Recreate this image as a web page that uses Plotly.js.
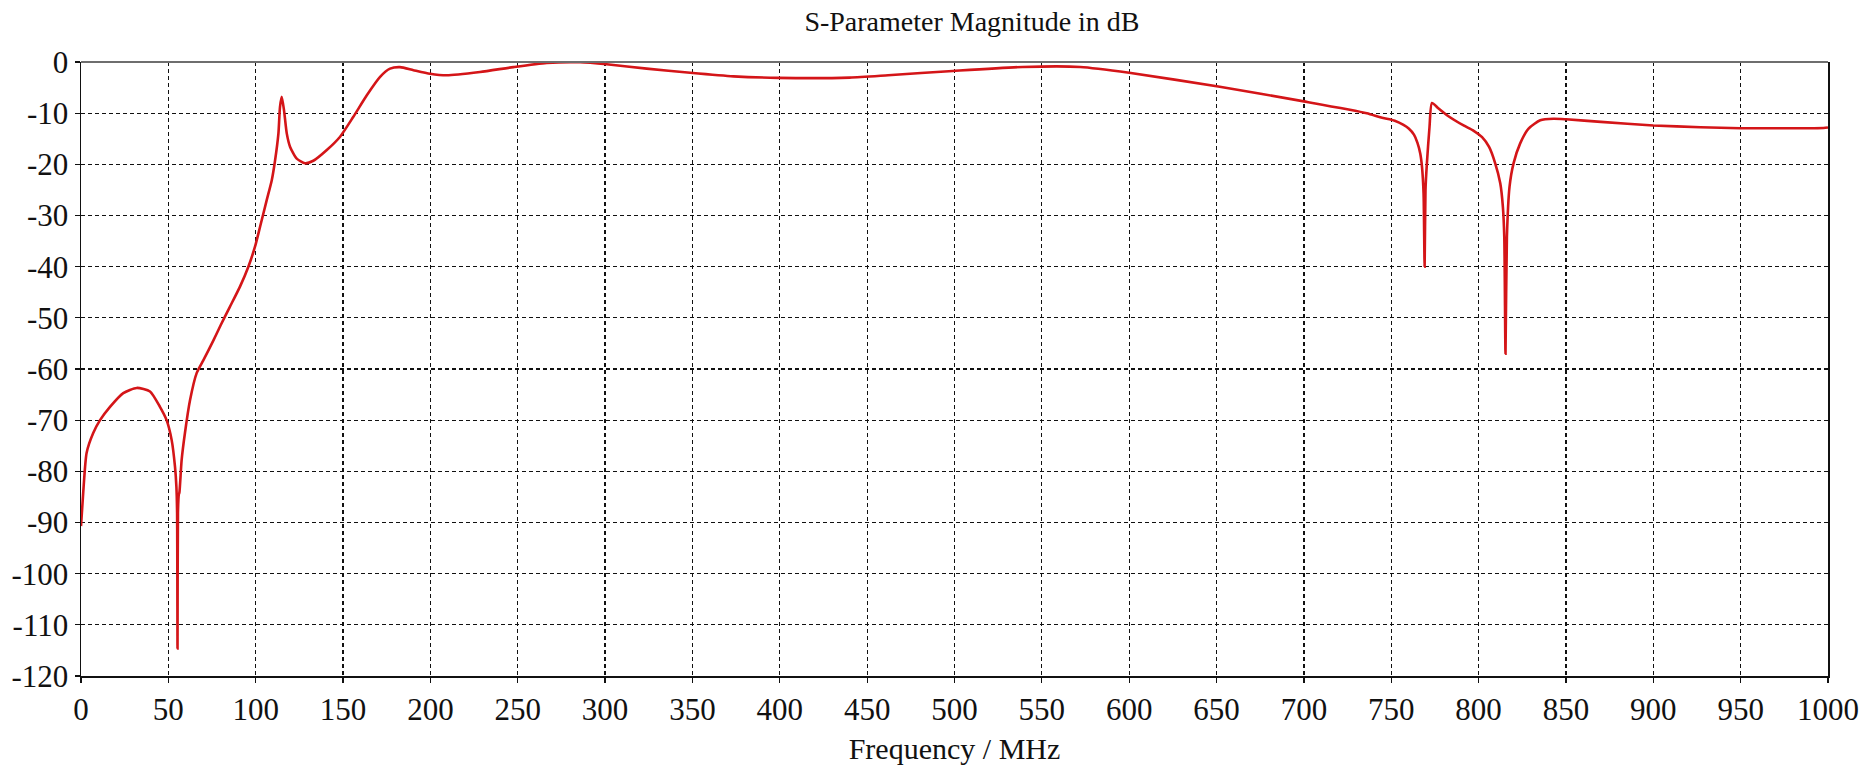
<!DOCTYPE html>
<html>
<head>
<meta charset="utf-8">
<script src="https://cdn.plot.ly/plotly-3.0.1.min.js"></script>
<style>html,body{margin:0;padding:0;background:#fff;}#chart{width:1875px;height:765px;}</style>
</head>
<body>
<div id="chart"></div>
<script>
// Frequency (MHz) and S-parameter magnitude (dB)
const freqMHz = [
  0, 1.3, 3.2, 7, 10.9, 16.6, 24.2, 31.9, 39.5, 45.2, 49, 51.9, 53.8, 54.6, 55.0, 55.25, 55.5, 56.0, 56.3,
  57.6, 59.5, 62.4, 66.2, 70, 75.8, 80, 85, 91, 95.8, 99.6, 102.5, 106.3, 109.2, 111.1, 113, 113.9,
  114.9, 116.2, 117.8, 119.7, 123.5, 128.2, 133, 140.7, 148.3, 155.9, 163.6, 171.2, 176.9, 182.6, 190.3,
  199.8, 209.4, 228.4, 247.5, 266.6, 285.7, 300.9, 323.8, 348.7, 373.5, 399.2, 440, 462, 499, 539, 572,
  600, 651, 700, 736, 743.7, 749, 752, 757, 760, 763, 765, 766.6, 767.6, 768.5, 769.1, 769.6, 770.4, 771.9,
  773.3, 777.1, 781.9, 791.4, 797, 802, 806, 809.5, 812.4, 813.9, 814.7, 815.4, 816.2, 817.7, 820, 823.8,
  828.6, 835.3, 842.9, 850, 870, 900, 927, 950, 975, 997.5, 1000
];
const magDB = [
  -90.7, -84, -76.4, -72.5, -70, -67.4, -64.7, -63.7, -64.4, -67.4, -70, -73.9, -79.1, -83, -88, -114.6, -88, -84.5, -84.2,
  -77.8, -72.5, -66.1, -60.8, -58.3, -54.4, -51.4, -48.0, -43.9, -40, -36.1, -32.2, -27, -23.1, -19.2, -14, -8.8,
  -6.8, -9.4, -14, -16.6, -18.9, -19.8, -19.3, -17.2, -14.6, -10.7, -6.5, -2.9, -1.3, -1.0, -1.6,
  -2.3, -2.6, -1.95, -1.0, -0.2, -0.06, -0.45, -1.3, -2.1, -2.8, -3.1, -3.05, -2.6, -1.75, -0.97, -0.97,
  -2.1, -4.8, -7.7, -10, -10.8, -11.2, -11.5, -12.3, -13.0, -14.2, -15.8, -17.9, -20.5, -25.7, -40, -25, -19.8, -12.7,
  -8.0, -9.1, -10.4, -12.4, -13.4, -14.7, -16.6, -19.8, -23.7, -28.3, -34.2, -57, -34.2, -24.4, -19.8, -15.9,
  -13.0, -11.4, -11.1, -11.2, -11.7, -12.4, -12.75, -12.95, -12.95, -12.9, -12.8
];

const xTickVals = [0, 50, 100, 150, 200, 250, 300, 350, 400, 450, 500, 550, 600, 650, 700, 750, 800, 850, 900, 950, 1000];
const xTickText = ['0', '50', '100', '150', '200', '250', '300', '350', '400', '450', '500', '550', '600', '650', '700', '750', '800', '850', '900', '950', '1000'];
const yTickVals = [0, -10, -20, -30, -40, -50, -60, -70, -80, -90, -100, -110, -120];
const yTickText = ['0', '-10', '-20', '-30', '-40', '-50', '-60', '-70', '-80', '-90', '-100', '-110', '-120'];

const chartTitle = 'S-Parameter Magnitude in dB';
const xTitle = 'Frequency / MHz';

const FONT = '"Liberation Serif", "Times New Roman", serif';

const trace = {
  x: freqMHz,
  y: magDB,
  type: 'scatter',
  mode: 'lines',
  line: {color: '#d41518', width: 2.6, shape: 'spline', smoothing: 0.6},
  hoverinfo: 'x+y'
};

const layout = {
  width: 1875,
  height: 765,
  margin: {l: 81, r: 47, t: 62, b: 89},
  paper_bgcolor: '#ffffff',
  plot_bgcolor: '#ffffff',
  font: {family: FONT, color: '#111111', size: 30},
  showlegend: false,
  title: {
    text: chartTitle,
    font: {family: FONT, size: 28, color: '#111111'},
    xref: 'paper', x: 0.51, xanchor: 'center',
    yref: 'container', y: 0.972, yanchor: 'middle'
  },
  xaxis: {
    range: [0, 1000],
    tickmode: 'array',
    tickvals: xTickVals,
    ticktext: xTickText,
    ticks: 'outside', ticklen: 5, tickwidth: 1.2, tickcolor: '#111111',
    tickfont: {family: FONT, size: 31, color: '#111111'},
    showgrid: true, gridcolor: '#111111', gridwidth: 1.2, griddash: '4px,3px',
    showline: true, linecolor: '#111111', linewidth: 1.5, mirror: false,
    zeroline: false,
    title: {text: xTitle, font: {family: FONT, size: 30, color: '#111111'}, standoff: 17}
  },
  yaxis: {
    range: [-120, 0],
    tickmode: 'array',
    tickvals: yTickVals,
    ticktext: yTickText,
    ticks: 'outside', ticklen: 5, tickwidth: 1.2, tickcolor: '#111111',
    tickfont: {family: FONT, size: 31, color: '#111111'},
    showgrid: true, gridcolor: '#111111', gridwidth: 1.2, griddash: '4px,3px',
    showline: true, linecolor: '#111111', linewidth: 1.5, mirror: true,
    zeroline: false
  },
  shapes: [{
    type: 'line', xref: 'paper', yref: 'paper',
    x0: 0, x1: 1, y0: 1, y1: 1,
    line: {color: '#6e6e6e', width: 2.2}
  }]
};

Plotly.newPlot('chart', [trace], layout, {displayModeBar: false, staticPlot: true});
</script>
</body>
</html>
